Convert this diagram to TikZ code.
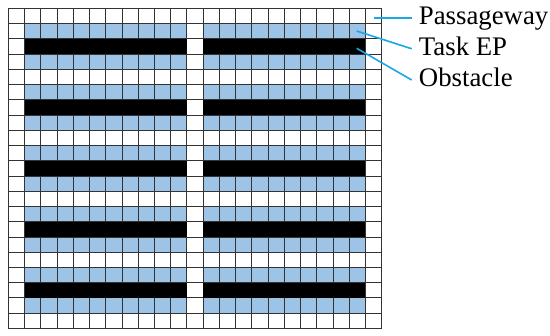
\documentclass[tikz,border=0pt]{standalone}
\usepackage{fontspec}
\setmainfont{Liberation Serif}
\usepackage{xcolor}
\usepackage{tikz}

\definecolor{epblue}{RGB}{157,195,230}
\definecolor{leadblue}{RGB}{25,168,228}

\begin{document}
\begin{tikzpicture}[x=1pt,y=-1pt,
    every node/.style={font=\fontsize{26.8}{32}\selectfont},
    taskcell/.style={fill=epblue},
    obstbar/.style ={fill=black},
    gridln/.style  ={draw=black!80,line width=0.75pt},
    lbl/.style     ={anchor=west,inner xsep=7pt,inner ysep=0pt,
                     text height=18pt,text depth=5.5pt},
    lead/.style    ={draw=leadblue,line width=1.6pt},
  ]
  \useasboundingbox (0,0) rectangle (550,336);

  % Warehouse grid: 23 x 21 cells
  \begin{scope}[shift={(8.3,8.3)},x=16.23pt,y=-15.24pt]
    % task EP rows (light blue)
    \foreach \r in {1,3,...,19}
      \foreach \c in {1,12}
        \fill[taskcell] (\c,\r) rectangle ++(10,1);
    % cell lines
    \foreach \c in {0,...,23}
      \draw[gridln] (\c,0) -- (\c,21);
    \foreach \r in {0,...,21}
      \draw[gridln] (0,\r) -- (23,\r);
    % obstacles (shelves)
    \foreach \r in {2,6,...,18}
      \foreach \c in {1,12}
        \fill[obstbar] (\c,\r) rectangle ++(10,1);
  \end{scope}

  % Legend
  \node[lbl] (pass) at (411.7,18.3) {Passageway};
  \node[lbl] (task) at (411.7,48.8) {Task EP};
  \node[lbl] (obst) at (411.7,80.0) {Obstacle};

  \coordinate (pPass) at (374.0,18.3);
  \coordinate (pTask) at (356.7,31.0);
  \coordinate (pObst) at (356.7,48.3);

  \draw[lead] (pPass) -- (pass.west);
  \draw[lead] (pTask) -- (task.west);
  \draw[lead] (pObst) -- (obst.west);
\end{tikzpicture}
\end{document}
